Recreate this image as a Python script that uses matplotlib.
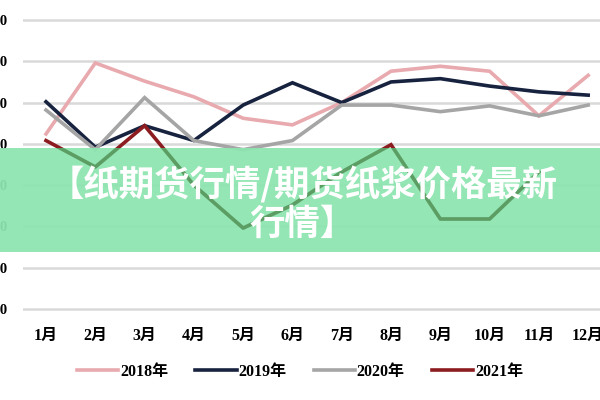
import matplotlib.pyplot as plt
from matplotlib.patches import Rectangle

# Data
months = ["1月", "2月", "3月", "4月", "5月", "6月", "7月", "8月", "9月", "10月", "11月", "12月"]
price_2018 = [5620, 6480, 6260, 6070, 5810, 5730, 6000, 6380, 6440, 6380, 5840, 6330]
price_2019 = [6010, 5460, 5720, 5540, 5970, 6240, 6000, 6250, 6290, 6200, 6130, 6090]
price_2020 = [5910, 5430, 6060, 5540, 5430, 5540, 5970, 5970, 5890, 5960, 5840, 5970]
price_2021 = [5540, 5220, 5720, 5000, 4480, 4760, 5160, 5490, 4590, 4590, 5160, None]
y_ticks = [3500, 4000, 4500, 5000, 5500, 6000, 6500, 7000]
title_text = "【纸期货行情/期货纸浆价格最新\n行情】"

series = [
    ("2018年", price_2018, "#e8aaae"),
    ("2019年", price_2019, "#17223f"),
    ("2020年", price_2020, "#a5a5a5"),
    ("2021年", price_2021, "#8c1c1f"),
]

label_font = ["Liberation Serif", "Noto Sans CJK SC"]

fig = plt.figure(figsize=(6, 4), dpi=100)
ax = fig.add_axes([23 / 600, 1 - 313.1 / 400, 577 / 600, (313.1 - 15.9) / 400])

x = list(range(len(months)))
for name, vals, color in series:
    xs = [i for i, v in zip(x, vals) if v is not None]
    ys = [v for v in vals if v is not None]
    ax.plot(xs, ys, color=color, lw=2.6, label=name, solid_joinstyle="miter")

ax.set_xlim(-0.467, 11.24)
ax.set_ylim(3450, 7050)
ax.set_yticks(y_ticks)
ax.set_yticklabels([str(v) for v in y_ticks], family=label_font, fontweight="bold", fontsize=10.5)
ax.set_xticks(x)
ax.set_xticklabels(months, family=label_font, fontweight="bold", fontsize=11.5)
ax.tick_params(axis="both", length=0)
ax.tick_params(axis="x", pad=11)
ax.tick_params(axis="y", pad=11)
ax.grid(axis="y", color="#d9d9d9", lw=1.8)
ax.set_axisbelow(True)
for s in ax.spines.values():
    s.set_visible(False)

leg = fig.legend(loc="center", bbox_to_anchor=(0.5, 1 - 372 / 400), ncol=4, frameon=False,
                 handlelength=2.6, handletextpad=0.1, columnspacing=1.7,
                 prop={"family": label_font, "weight": "bold", "size": 11.5})

# green banner across the whole figure, drawn inside the axes so the 2021 line can sit on it
banner = Rectangle((0, 1 - 252 / 400), 1, 104 / 400, transform=fig.transFigure,
                   facecolor="#8de5b0", edgecolor="none", alpha=0.94, zorder=5, clip_on=False)
ax.add_artist(banner)

# 2021 line seen through the banner
clip = Rectangle((0, 1 - 252 / 400), 1, 104 / 400, transform=fig.transFigure, facecolor="none")
xs21 = [i for i, v in zip(x, price_2021) if v is not None]
ys21 = [v for v in price_2021 if v is not None]
shadow, = ax.plot(xs21, ys21, color="#5b9d63", lw=2.6, zorder=6)
shadow.set_clip_path(clip)

fig.text(0.505, 1 - 204 / 400, title_text, ha="center", va="center", ma="center",
         color="white", fontsize=25.5, fontweight="bold", family="Noto Sans CJK SC",
         linespacing=1.12, zorder=10)

fig.savefig("out.png")
